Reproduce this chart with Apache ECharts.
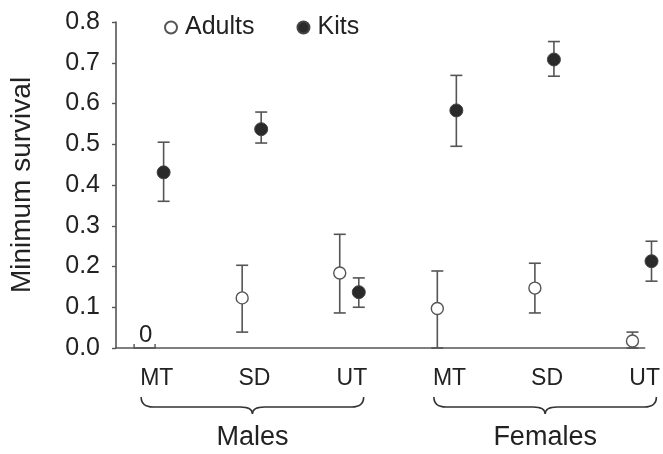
<!DOCTYPE html>
<html><head><meta charset="utf-8">
<script src="https://cdn.jsdelivr.net/npm/echarts@6/dist/echarts.min.js"></script>
<style>html,body{margin:0;padding:0;background:#fff}#c{width:663px;height:454px}</style>
</head><body><div id="c"></div>
<script>
// ---- data ----
const categories = ['MT', 'SD', 'UT', 'MT', 'SD', 'UT'];
const groupNames = ['Males', 'Females'];
const groupFirst = [0, 3];
const groupLast = [2, 5];
const adultMean = [0, 0.123, 0.184, 0.097, 0.147, 0.017];
const adultLow  = [null, 0.039, 0.086, 0.000, 0.086, 0.000];
const adultHigh = [null, 0.203, 0.279, 0.189, 0.208, 0.039];
const kitMean = [0.431, 0.537, 0.137, 0.583, 0.708, 0.213];
const kitLow  = [0.360, 0.503, 0.100, 0.495, 0.667, 0.164];
const kitHigh = [0.505, 0.579, 0.172, 0.669, 0.752, 0.262];
const seriesNames = ['Adults', 'Kits'];

// ---- style ----
const ADULT_OFF = -0.125, KIT_OFF = 0.07;
const FONT = 'Liberation Sans, Arial, Helvetica, sans-serif';
const INK = '#222', LINE = '#555';

const adultPts = [], kitPts = [], errData = [], zeroData = [];
categories.forEach((c, i) => {
  if (adultLow[i] === null && adultMean[i] === 0) {
    zeroData.push([i + ADULT_OFF, adultMean[i]]);
  } else {
    adultPts.push([i + ADULT_OFF, adultMean[i]]);
    errData.push([i + ADULT_OFF, adultLow[i], adultHigh[i]]);
  }
  kitPts.push([i + KIT_OFF, kitMean[i]]);
  errData.push([i + KIT_OFF, kitLow[i], kitHigh[i]]);
});
const braceData = groupNames.map((g, k) => [groupFirst[k] - 0.16, groupLast[k] + 0.12, k]);

function errorBarItem(params, api) {
  const x = api.value(0), lo = api.value(1), hi = api.value(2);
  const pLo = api.coord([x, lo]), pHi = api.coord([x, hi]);
  const w = 6, st = { stroke: LINE, lineWidth: 1.6 };
  return { type: 'group', children: [
    { type: 'line', shape: { x1: pLo[0], y1: pLo[1], x2: pHi[0], y2: pHi[1] }, style: st },
    { type: 'line', shape: { x1: pHi[0] - w, y1: pHi[1], x2: pHi[0] + w, y2: pHi[1] }, style: st },
    { type: 'line', shape: { x1: pLo[0] - w, y1: pLo[1], x2: pLo[0] + w, y2: pLo[1] }, style: st }
  ]};
}
function zeroItem(params, api) {
  const p = api.coord([api.value(0), api.value(1)]);
  const h = 10.5;
  return { type: 'group', children: [
    { type: 'polyline', shape: { points: [[p[0] - h, p[1] - 4], [p[0] - h, p[1]], [p[0] + h, p[1]], [p[0] + h, p[1] - 4]] },
      style: { stroke: LINE, lineWidth: 1.4, fill: 'none' } },
    { type: 'text', x: p[0] + 1, y: p[1] - 1,
      style: { text: String(api.value(1)), font: '24px ' + FONT, fill: INK, align: 'center', verticalAlign: 'bottom' } }
  ]};
}
function braceItem(params, api) {
  const a = api.coord([api.value(0), 0]), b = api.coord([api.value(1), 0]);
  const xa = a[0], xb = b[0], xc = (xa + xb) / 2, y = a[1];
  const y0 = y + 49, y1 = y + 59, y2 = y + 66, r = 12;
  const d = `M${xa},${y0} Q${xa},${y1} ${xa + r},${y1} L${xc - r},${y1} Q${xc},${y1} ${xc},${y2} ` +
            `Q${xc},${y1} ${xc + r},${y1} L${xb - r},${y1} Q${xb},${y1} ${xb},${y0}`;
  return { type: 'group', children: [
    { type: 'path', shape: { pathData: d }, style: { stroke: '#333', lineWidth: 1.6, fill: 'none' } },
    { type: 'text', x: xc, y: y + 90,
      style: { text: groupNames[api.value(2)], font: '27px ' + FONT, fill: INK, align: 'center', verticalAlign: 'middle' } }
  ]};
}

const chart = echarts.init(document.getElementById('c'), null, { renderer: 'canvas' });
chart.setOption({
  animation: false,
  backgroundColor: '#fff',
  grid: { left: 116, right: 16, top: 22, bottom: 106 },
  legend: {
    data: seriesNames, left: 159, top: 10, itemWidth: 18, itemHeight: 12, itemGap: 42,
    textStyle: { fontSize: 25, color: INK, fontFamily: FONT }
  },
  xAxis: {
    type: 'value', min: -0.418, max: 5,
    axisLine: { show: true, onZero: false, lineStyle: { color: LINE, width: 1.6 } },
    axisTick: { show: false },
    splitLine: { show: false },
    axisLabel: {
      customValues: categories.map((c, i) => i),
      formatter: v => categories[Math.round(v)],
      fontSize: 23, color: INK, fontFamily: FONT, margin: 19
    }
  },
  yAxis: {
    type: 'value', min: 0, max: 0.8, interval: 0.1,
    name: 'Minimum survival', nameLocation: 'middle', nameGap: 80, nameRotate: 90,
    nameTextStyle: { fontSize: 28, color: INK, fontFamily: FONT },
    axisLine: { show: true, onZero: false, lineStyle: { color: LINE, width: 1.6 } },
    axisTick: { show: true, inside: false, length: 4, lineStyle: { color: LINE, width: 1.4 } },
    splitLine: { show: false },
    axisLabel: { formatter: v => v.toFixed(1), fontSize: 25, color: INK, fontFamily: FONT, margin: 16 }
  },
  series: [
    { type: 'custom', name: 'err', renderItem: errorBarItem, data: errData, clip: false, z: 1, silent: true },
    { type: 'custom', name: 'zero', renderItem: zeroItem, data: zeroData, clip: false, z: 1, silent: true },
    { type: 'custom', name: 'brace', renderItem: braceItem, data: braceData, clip: false, z: 1, silent: true },
    { type: 'scatter', name: 'Adults', data: adultPts, symbol: 'circle', symbolSize: 12, clip: false, z: 3,
      itemStyle: { color: '#fff', borderColor: LINE, borderWidth: 1.4, opacity: 1 } },
    { type: 'scatter', name: 'Kits', data: kitPts, symbol: 'circle', symbolSize: 13, clip: false, z: 3,
      itemStyle: { color: '#2a2a2a', borderColor: '#444', borderWidth: 1, opacity: 1 } }
  ]
});
</script></body></html>
